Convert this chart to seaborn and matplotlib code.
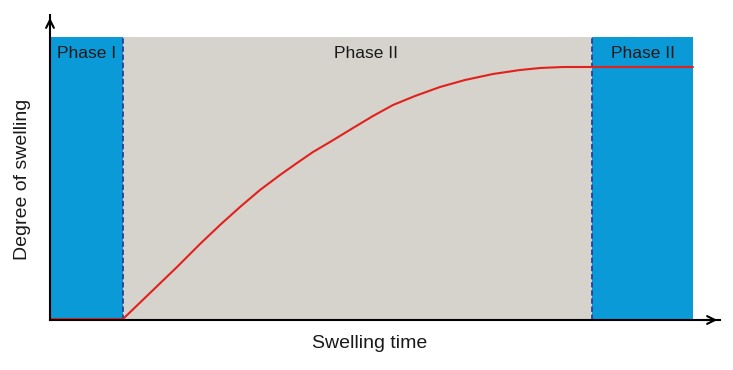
import matplotlib
matplotlib.use("Agg")
import matplotlib.pyplot as plt
import seaborn as sns
import pandas as pd

# Data (arbitrary units)
time = [0, 73, 100, 127, 150, 170, 190, 210, 230, 247, 263, 280, 303, 323, 343,
        365, 390, 415, 443, 470, 490, 513, 543, 643]
degree = [1, 1, 27, 53, 76, 95, 113, 130, 145, 157, 168, 178, 192, 204, 215,
          224, 233, 240, 246, 250, 252, 253, 253, 253]
phase_edges = [0, 73, 542, 643]
phase_labels = ["Phase I", "Phase II", "Phase II"]
phase_colors = ["#0a9ad8", "#d6d2cc", "#0a9ad8"]
region_top = 283

sns.set_theme(style="white")
plt.rcParams['font.family'] = ['Liberation Sans', 'DejaVu Sans']

fig = plt.figure(figsize=(7.33, 3.70), dpi=100)
ax = fig.add_axes([50/733, 50/370, 670/733, 305/370])

for i in range(3):
    ax.fill_between([phase_edges[i], phase_edges[i+1]], 0, region_top,
                    color=phase_colors[i], lw=0, zorder=1)
for xb in phase_edges[1:3]:
    ax.plot([xb, xb], [0, region_top], color="#2b3f98", lw=1.3,
            ls=(0, (3, 1.5)), zorder=2)

df = pd.DataFrame({"time": time, "degree": degree})
sns.lineplot(data=df, x="time", y="degree", color="#e2211c", lw=1.5,
             ax=ax, zorder=3)

label_x = [37, 316, 593]
for lx, lab in zip(label_x, phase_labels):
    ax.text(lx, 266, lab, ha="center", va="center", fontsize=12.5,
            color="#1a1a1a", zorder=4)

ax.set_xlim(0, 670)
ax.set_ylim(0, 305)
ax.set_xticks([])
ax.set_yticks([])
for s in ["top", "right"]:
    ax.spines[s].set_visible(False)
for s in ["left", "bottom"]:
    ax.spines[s].set_color("black")
    ax.spines[s].set_linewidth(1.5)
    ax.spines[s].set_zorder(5)

ax.annotate("", xy=(1.0, 0), xytext=(0.97, 0), xycoords="axes fraction",
            arrowprops=dict(arrowstyle="->", color="black", lw=1.5,
                            mutation_scale=14), annotation_clip=False)
ax.annotate("", xy=(0, 1.0), xytext=(0, 0.95), xycoords="axes fraction",
            arrowprops=dict(arrowstyle="->", color="black", lw=1.5,
                            mutation_scale=14), annotation_clip=False)

ax.set_xlabel("Swelling time", fontsize=14, color="#1a1a1a")
ax.set_ylabel("Degree of swelling", fontsize=14, color="#1a1a1a")
ax.xaxis.set_label_coords(320/670, -0.05)
ax.yaxis.set_label_coords(-0.028, 141/305)

fig.savefig("out.png", dpi=100, facecolor="white")
